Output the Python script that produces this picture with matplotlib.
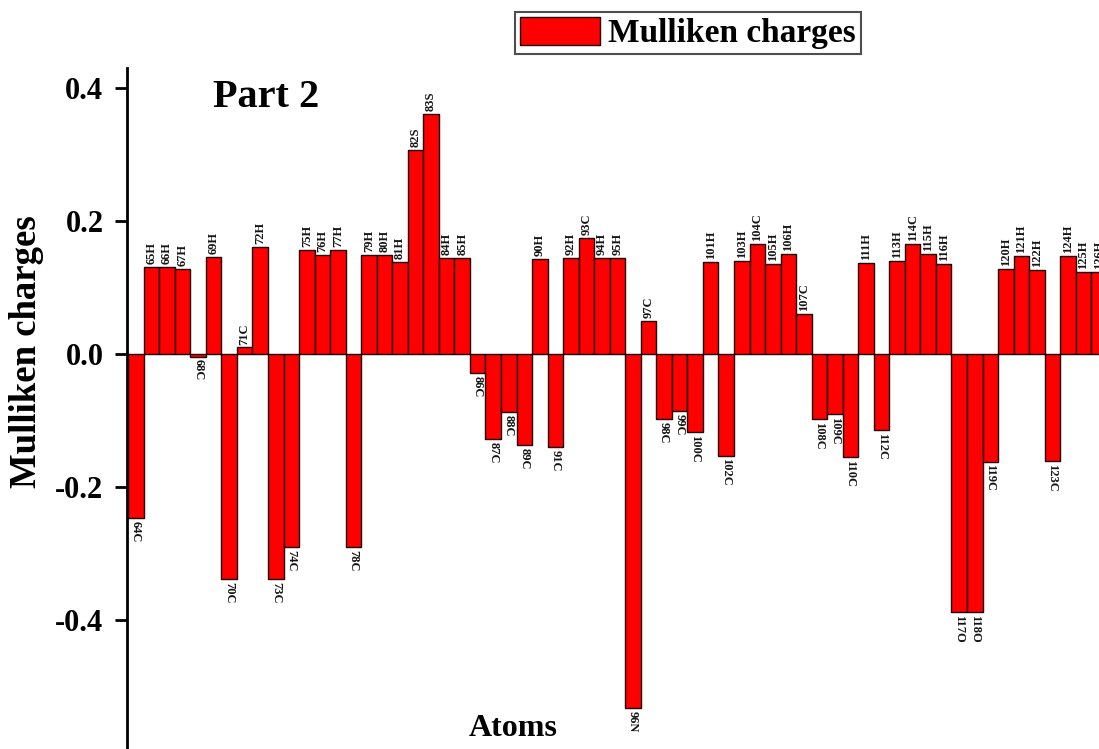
import matplotlib
matplotlib.use("Agg")
import matplotlib.pyplot as plt

# Atom labels (64C ... 126H) and their Mulliken charges
atoms = [
    "64C", "65H", "66H", "67H", "68C", "69H", "70C", "71C", "72H", "73C",
    "74C", "75H", "76H", "77H", "78C", "79H", "80H", "81H", "82S", "83S",
    "84H", "85H", "86C", "87C", "88C", "89C", "90H", "91C", "92H", "93C",
    "94H", "95H", "96N", "97C", "98C", "99C", "100C", "101H", "102C", "103H",
    "104C", "105H", "106H", "107C", "108C", "109C", "110C", "111H", "112C", "113H",
    "114C", "115H", "116H", "117O", "118O", "119C", "120H", "121H", "122H", "123C",
    "124H", "125H", "126H",
]
charges = [
    -0.247, 0.131, 0.131, 0.128, -0.004, 0.146, -0.338, 0.010, 0.161, -0.338,
    -0.290, 0.156, 0.149, 0.156, -0.290, 0.149, 0.149, 0.138, 0.307, 0.361,
    0.144, 0.144, -0.029, -0.128, -0.087, -0.137, 0.143, -0.140, 0.144, 0.174,
    0.144, 0.144, -0.532, 0.050, -0.098, -0.086, -0.117, 0.138, -0.153, 0.140,
    0.165, 0.135, 0.150, 0.060, -0.098, -0.090, -0.155, 0.137, -0.114, 0.140,
    0.165, 0.150, 0.135, -0.388, -0.388, -0.162, 0.128, 0.147, 0.126, -0.161,
    0.147, 0.124, 0.124,
]
y_ticks = [-0.4, -0.2, 0.0, 0.2, 0.4]
y_ticklabels = ["-0.4", "-0.2", "0.0", "0.2", "0.4"]

serif = ["Liberation Serif", "DejaVu Serif"]
plt.rcParams["font.family"] = serif

fig = plt.figure(figsize=(10.99, 7.49), dpi=100)
ax = fig.add_axes([127 / 1099, 0.0, 1 - 127 / 1099, (749 - 68) / 749])

positions = [int(a[:-1]) for a in atoms]
bars = ax.bar(positions, charges, width=1.0, color="#ff0000",
              edgecolor="#1a0000", linewidth=1.0, label="Mulliken charges")

# atom name on each bar: above positive bars, below negative ones
for x, v, name in zip(positions, charges, atoms):
    if v >= 0:
        ax.annotate(name, (x, v), xytext=(0, 2), textcoords="offset points",
                    rotation=90, ha="center", va="bottom", fontsize=9,
                    fontweight="bold", color="#151515", annotation_clip=False)
    else:
        ax.annotate(name, (x, v), xytext=(0, -2), textcoords="offset points",
                    rotation=270, ha="center", va="top", fontsize=9,
                    fontweight="bold", color="#151515", annotation_clip=False)

ax.set_xlim(63.42, 126.0)
ax.set_ylim(-0.594, 0.43)

for side in ("top", "right", "bottom"):
    ax.spines[side].set_visible(False)
ax.spines["left"].set_linewidth(2.0)
ax.set_xticks([])
ax.set_yticks(y_ticks)
ax.set_yticklabels(y_ticklabels, fontsize=22, fontweight="bold")
ax.tick_params(axis="y", direction="out", length=9, width=2, pad=8)

ax.set_ylabel("Mulliken charges", fontsize=26.5, fontweight="bold")
ax.yaxis.set_label_coords(-0.085, 0.583)

ax.text(0.088, 0.956, "Part 2", transform=ax.transAxes, fontsize=29,
        fontweight="bold", ha="left", va="center")
fig.text(513 / 1099, 1 - 728 / 749, "Atoms", fontsize=23, fontweight="bold",
         ha="center", va="center")

leg = fig.legend(handles=[bars], labels=["Mulliken charges"],
                 loc="upper left", bbox_to_anchor=(515 / 1099, 1 - 12 / 749),
                 prop={"family": serif, "size": 24, "weight": "bold"},
                 frameon=True, fancybox=False, edgecolor="#222222",
                 handlelength=2.4, handleheight=0.9, handletextpad=0.25,
                 borderpad=0.15, borderaxespad=0)
leg.get_frame().set_linewidth(1.5)

fig.savefig("out.png", dpi=100)
